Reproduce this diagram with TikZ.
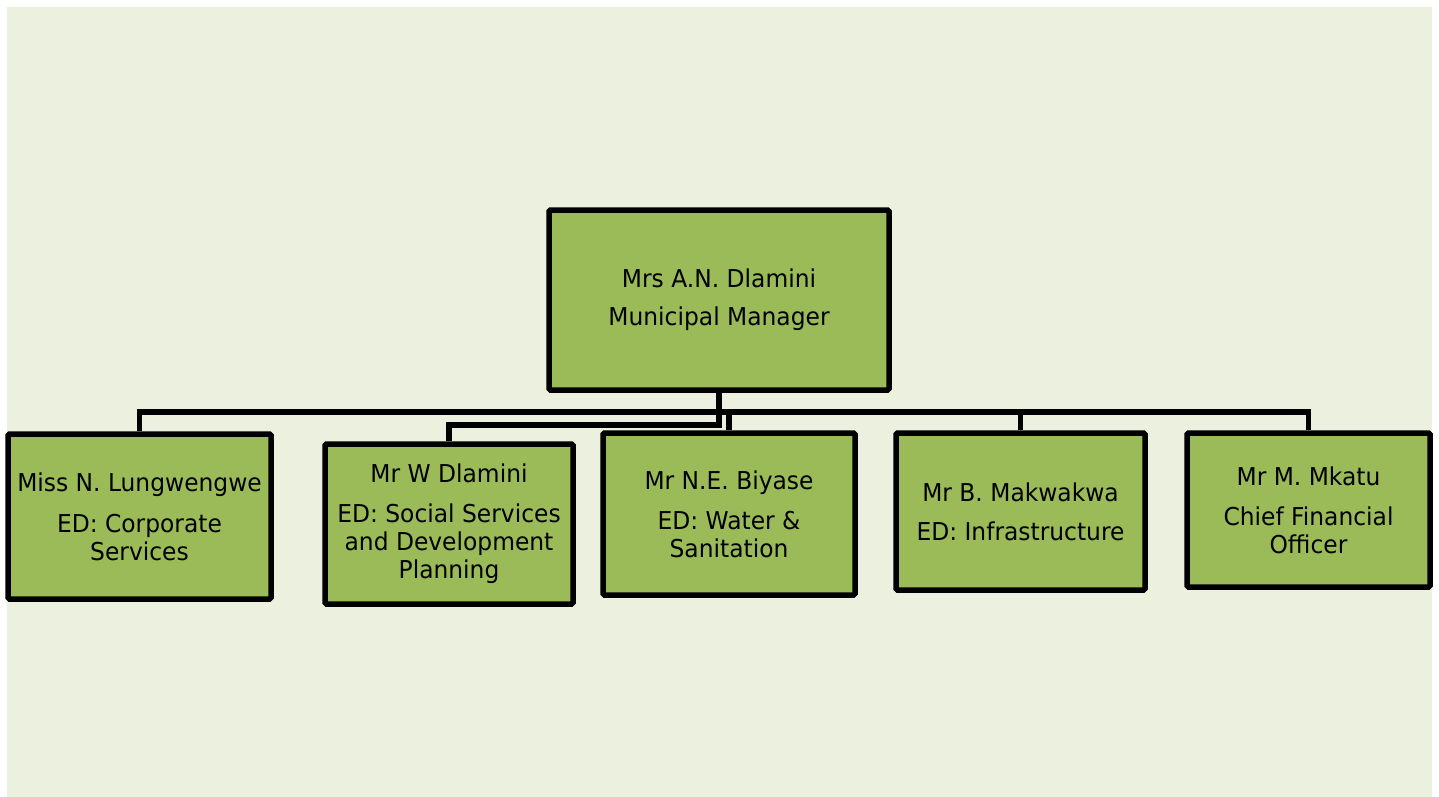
\documentclass[tikz,border=0pt]{standalone}
\usepackage{fontspec}
\setmainfont{DejaVu Sans}[FakeStretch=0.95]
\definecolor{bgc}{HTML}{EBF0DF}
\definecolor{boxc}{HTML}{9BBB59}
\begin{document}
\begin{tikzpicture}[x=1pt,y=-1pt,
  orgbox/.style={draw=black,line width=5.5pt,fill=boxc,rectangle,rounded corners=1.5pt,
    align=center,inner sep=0pt,font=\fontsize{24.6}{28}\selectfont,text=black},
  link/.style={draw=black,line width=5.5pt}]
\useasboundingbox (0,0) rectangle (1439,796);
\fill[white] (0,0) rectangle (1439,796);
\fill[bgc] (7,7) rectangle (1432,800);
\node[orgbox,minimum width=340pt,minimum height=180pt] (top) at (719,300) {Mrs A.N. Dlamini\\[10pt]Municipal Manager};
\node[orgbox,minimum width=263pt,minimum height=165pt] (b1) at (139.5,516.5) {Miss N. Lungwengwe\\[13pt]ED: Corporate\\Services};
\node[orgbox,minimum width=248pt,minimum height=160pt] (b2) at (449,524) {Mr W Dlamini\\[12pt]ED: Social Services\\and Development\\Planning};
\node[orgbox,minimum width=252pt,minimum height=162pt] (b3) at (729,514) {Mr N.E. Biyase\\[12pt]ED: Water \&\\Sanitation};
\node[orgbox,minimum width=249pt,minimum height=157pt] (b4) at (1020.5,511.5) {Mr B. Makwakwa\\[11pt]ED: Infrastructure};
\node[orgbox,minimum width=243pt,minimum height=154pt] (b5) at (1308.5,510) {Mr M. Mkatu\\[12pt]Chief Financial\\Officer};
\coordinate (bus) at (719,412);
\draw[link] (b1.north) |- (bus) -| (b5.north);
\draw[link] (b3.north) -- (b3.north |- bus);
\draw[link] (b4.north) -- (b4.north |- bus);
\draw[link] (top.south) -- ++(0,32) -| (b2.north);
\end{tikzpicture}
\end{document}
